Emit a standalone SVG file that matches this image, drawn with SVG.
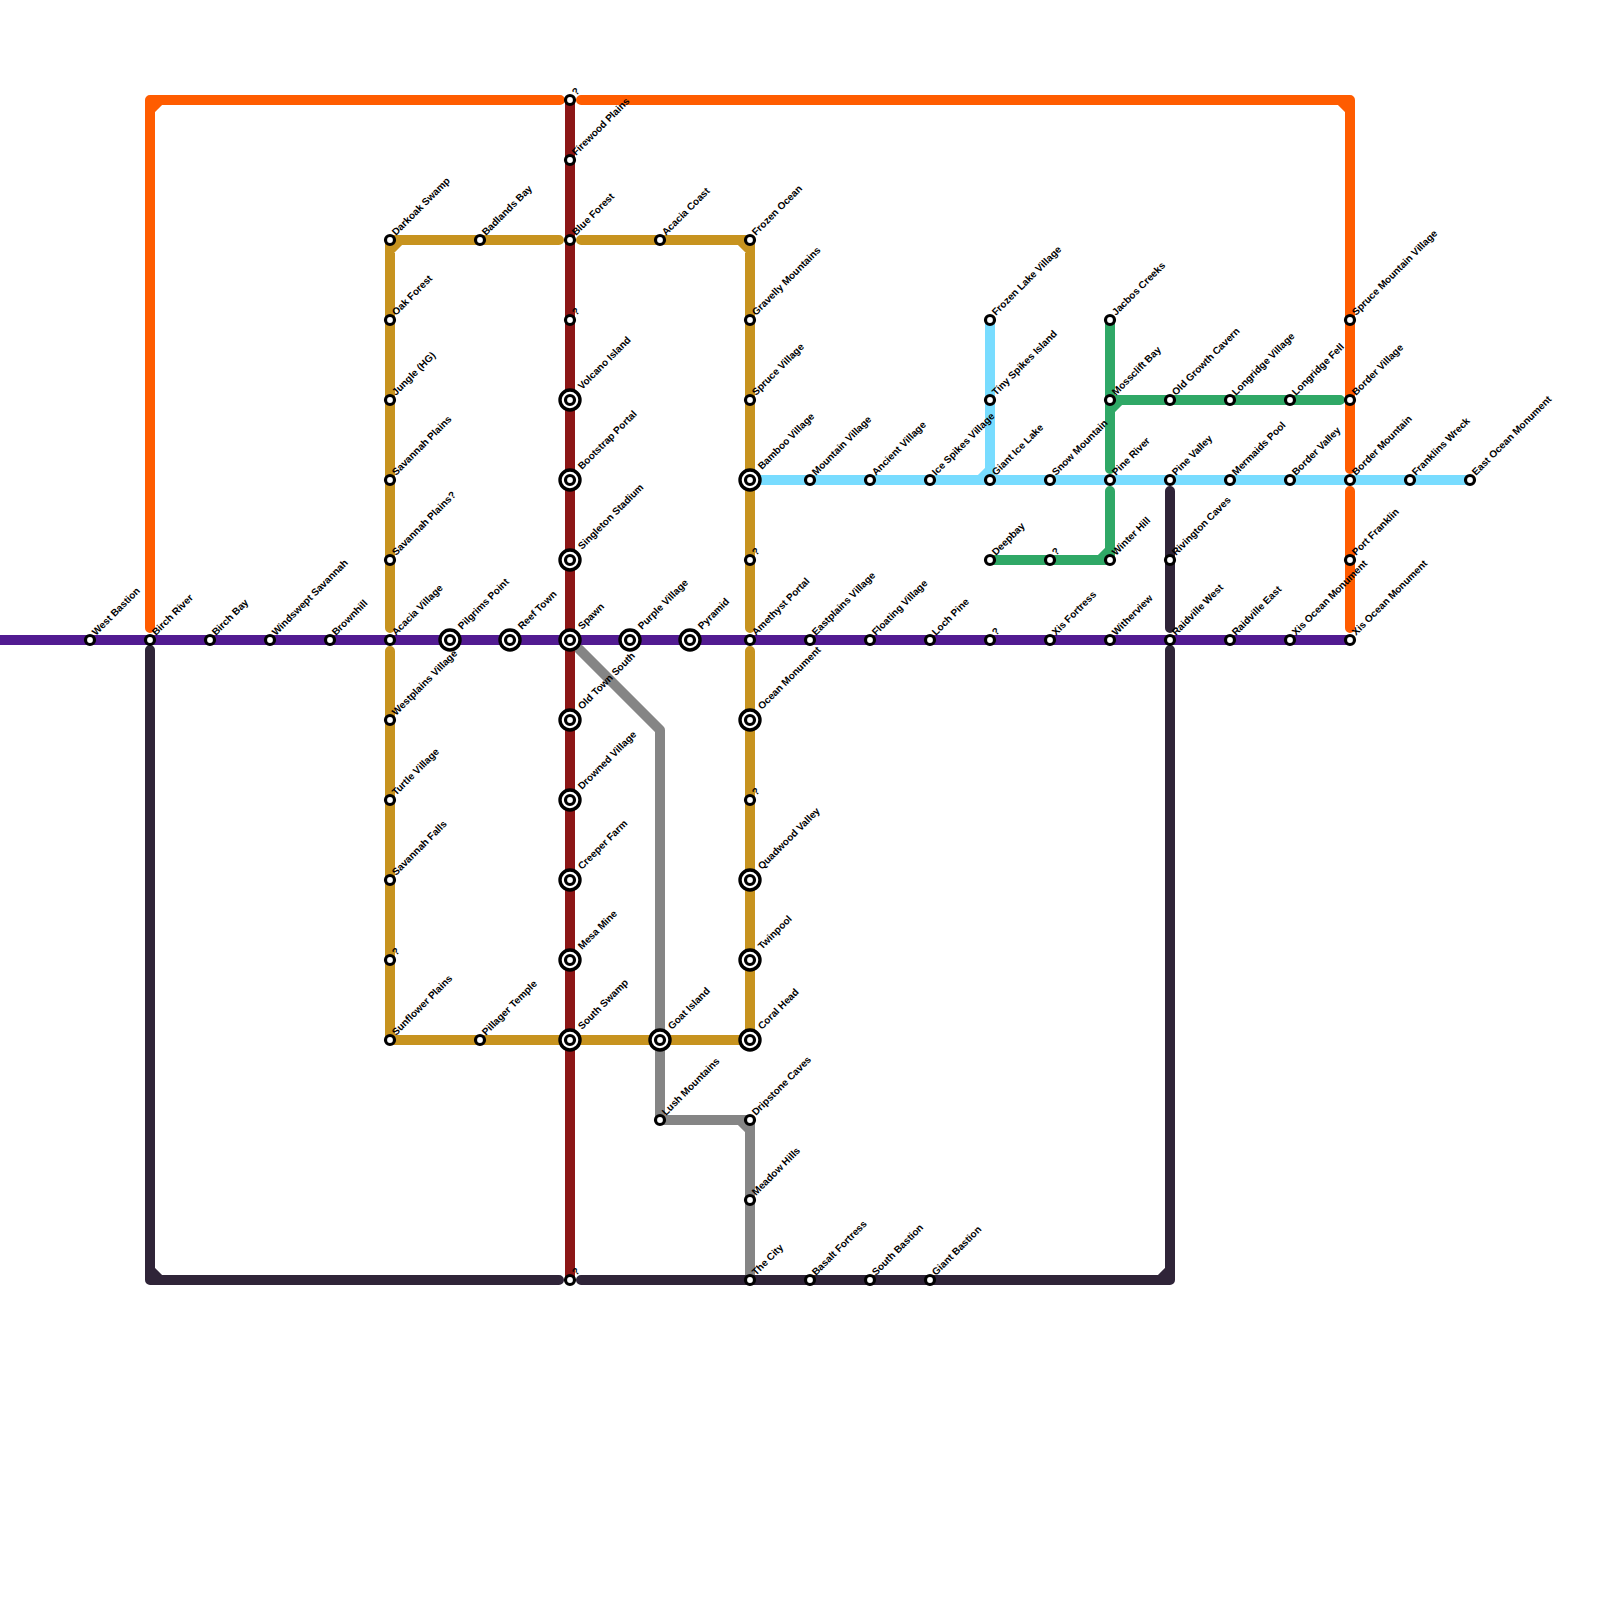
<svg xmlns="http://www.w3.org/2000/svg" width="1600" height="1600" viewBox="0 0 1600 1600">
<style>
.l{fill:none;stroke-width:10;stroke-linecap:round;stroke-linejoin:round}
.s{fill:#fff;stroke:#000;stroke-width:3.2}
.r{fill:#fff;stroke:#000;stroke-width:3.4}
text{font-family:"Liberation Sans",Arial,sans-serif;font-size:10px;font-weight:bold;fill:#000;text-rendering:geometricPrecision}
</style>
<defs>
<g id="sm"><circle class="s" r="4.5"/></g>
<g id="ic"><circle class="r" r="10"/><circle class="s" r="4.5"/></g>
</defs>
<rect width="1600" height="1600" fill="#fff"/>
<g id="connectors">
<path class="l" stroke="#ff5c00" d="M150 628V100H560M150 110L160 100M581 100H1350V469M1340 100L1350 110M1350 491V628"/>
<path class="l" stroke="#c7931f" d="M390 628V240H559M390 250L400 240M581 240H750V628M740 240L750 250M390 651V1040H750V651"/>
<path class="l" stroke="#858585" d="M579 649L660 730V1120H750V1280M740 1120L750 1130"/>
<path class="l" stroke="#2f2438" d="M150 650V1280H559M150 1270L160 1280M581 1280H1170V650M1160 1280L1170 1270M1170 628V491"/>
<path class="l" stroke="#2fa866" d="M1110 320V469M1110 410L1120 400M1110 400H1340M1110 491V560H990M1100 560L1110 550"/>
<path class="l" stroke="#78dcff" d="M990 320V480M980 480L990 470M750 480H1470"/>
<path class="l" stroke="#8c1616" d="M570 100V1280"/>
<path class="l" stroke="#521b91" stroke-linecap="butt" d="M0 640H1350"/>
</g>
<g id="stations">
<g id="n1"><use href="#sm" x="90" y="640"/><text transform="translate(96 636) rotate(-45)">West Bastion</text></g>
<g id="n2"><use href="#sm" x="150" y="640"/><text transform="translate(156 636) rotate(-45)">Birch River</text></g>
<g id="n3"><use href="#sm" x="210" y="640"/><text transform="translate(216 636) rotate(-45)">Birch Bay</text></g>
<g id="n4"><use href="#sm" x="270" y="640"/><text transform="translate(276 636) rotate(-45)">Windswept Savannah</text></g>
<g id="n5"><use href="#sm" x="330" y="640"/><text transform="translate(336 636) rotate(-45)">Brownhill</text></g>
<g id="n6"><use href="#sm" x="390" y="640"/><text transform="translate(396 636) rotate(-45)">Acacia Village</text></g>
<g id="n7"><use href="#ic" x="450" y="640"/><text transform="translate(462 630) rotate(-45)">Pilgrims Point</text></g>
<g id="n8"><use href="#ic" x="510" y="640"/><text transform="translate(522 630) rotate(-45)">Reef Town</text></g>
<g id="n9"><use href="#ic" x="570" y="640"/><text transform="translate(582 630) rotate(-45)">Spawn</text></g>
<g id="n10"><use href="#ic" x="630" y="640"/><text transform="translate(642 630) rotate(-45)">Purple Village</text></g>
<g id="n11"><use href="#ic" x="690" y="640"/><text transform="translate(702 630) rotate(-45)">Pyramid</text></g>
<g id="n12"><use href="#sm" x="750" y="640"/><text transform="translate(756 636) rotate(-45)">Amethyst Portal</text></g>
<g id="n13"><use href="#sm" x="810" y="640"/><text transform="translate(816 636) rotate(-45)">Eastplains Village</text></g>
<g id="n14"><use href="#sm" x="870" y="640"/><text transform="translate(876 636) rotate(-45)">Floating Village</text></g>
<g id="n15"><use href="#sm" x="930" y="640"/><text transform="translate(936 636) rotate(-45)">Loch Pine</text></g>
<g id="n16"><use href="#sm" x="990" y="640"/><text transform="translate(996 636) rotate(-45)">?</text></g>
<g id="n17"><use href="#sm" x="1050" y="640"/><text transform="translate(1056 636) rotate(-45)">Xis Fortress</text></g>
<g id="n18"><use href="#sm" x="1110" y="640"/><text transform="translate(1116 636) rotate(-45)">Witherview</text></g>
<g id="n19"><use href="#sm" x="1170" y="640"/><text transform="translate(1176 636) rotate(-45)">Raidville West</text></g>
<g id="n20"><use href="#sm" x="1230" y="640"/><text transform="translate(1236 636) rotate(-45)">Raidville East</text></g>
<g id="n21"><use href="#sm" x="1290" y="640"/><text transform="translate(1296 636) rotate(-45)">Xis Ocean Monument</text></g>
<g id="n22"><use href="#sm" x="1350" y="640"/><text transform="translate(1356 636) rotate(-45)">Xis Ocean Monument</text></g>
<g id="n23"><use href="#sm" x="390" y="240"/><text transform="translate(396 236) rotate(-45)">Darkoak Swamp</text></g>
<g id="n24"><use href="#sm" x="390" y="320"/><text transform="translate(396 316) rotate(-45)">Oak Forest</text></g>
<g id="n25"><use href="#sm" x="390" y="400"/><text transform="translate(396 396) rotate(-45)">Jungle (HG)</text></g>
<g id="n26"><use href="#sm" x="390" y="480"/><text transform="translate(396 476) rotate(-45)">Savannah Plains</text></g>
<g id="n27"><use href="#sm" x="390" y="560"/><text transform="translate(396 556) rotate(-45)">Savannah Plains?</text></g>
<g id="n28"><use href="#sm" x="390" y="720"/><text transform="translate(396 716) rotate(-45)">Westplains Village</text></g>
<g id="n29"><use href="#sm" x="390" y="800"/><text transform="translate(396 796) rotate(-45)">Turtle Village</text></g>
<g id="n30"><use href="#sm" x="390" y="880"/><text transform="translate(396 876) rotate(-45)">Savannah Falls</text></g>
<g id="n31"><use href="#sm" x="390" y="960"/><text transform="translate(396 956) rotate(-45)">?</text></g>
<g id="n32"><use href="#sm" x="390" y="1040"/><text transform="translate(396 1036) rotate(-45)">Sunflower Plains</text></g>
<g id="n33"><use href="#sm" x="480" y="240"/><text transform="translate(486 236) rotate(-45)">Badlands Bay</text></g>
<g id="n34"><use href="#sm" x="480" y="1040"/><text transform="translate(486 1036) rotate(-45)">Pillager Temple</text></g>
<g id="n35"><use href="#sm" x="570" y="100"/><text transform="translate(576 96) rotate(-45)">?</text></g>
<g id="n36"><use href="#sm" x="570" y="160"/><text transform="translate(576 156) rotate(-45)">Firewood Plains</text></g>
<g id="n37"><use href="#sm" x="570" y="240"/><text transform="translate(576 236) rotate(-45)">Blue Forest</text></g>
<g id="n38"><use href="#sm" x="570" y="320"/><text transform="translate(576 316) rotate(-45)">?</text></g>
<g id="n39"><use href="#ic" x="570" y="400"/><text transform="translate(582 390) rotate(-45)">Volcano Island</text></g>
<g id="n40"><use href="#ic" x="570" y="480"/><text transform="translate(582 470) rotate(-45)">Bootstrap Portal</text></g>
<g id="n41"><use href="#ic" x="570" y="560"/><text transform="translate(582 550) rotate(-45)">Singleton Stadium</text></g>
<g id="n42"><use href="#ic" x="570" y="720"/><text transform="translate(582 710) rotate(-45)">Old Town South</text></g>
<g id="n43"><use href="#ic" x="570" y="800"/><text transform="translate(582 790) rotate(-45)">Drowned Village</text></g>
<g id="n44"><use href="#ic" x="570" y="880"/><text transform="translate(582 870) rotate(-45)">Creeper Farm</text></g>
<g id="n45"><use href="#ic" x="570" y="960"/><text transform="translate(582 950) rotate(-45)">Mesa Mine</text></g>
<g id="n46"><use href="#ic" x="570" y="1040"/><text transform="translate(582 1030) rotate(-45)">South Swamp</text></g>
<g id="n47"><use href="#sm" x="570" y="1280"/><text transform="translate(576 1276) rotate(-45)">?</text></g>
<g id="n48"><use href="#sm" x="660" y="240"/><text transform="translate(666 236) rotate(-45)">Acacia Coast</text></g>
<g id="n49"><use href="#sm" x="750" y="240"/><text transform="translate(756 236) rotate(-45)">Frozen Ocean</text></g>
<g id="n50"><use href="#sm" x="750" y="320"/><text transform="translate(756 316) rotate(-45)">Gravelly Mountains</text></g>
<g id="n51"><use href="#sm" x="750" y="400"/><text transform="translate(756 396) rotate(-45)">Spruce Village</text></g>
<g id="n52"><use href="#ic" x="750" y="480"/><text transform="translate(762 470) rotate(-45)">Bamboo Village</text></g>
<g id="n53"><use href="#sm" x="750" y="560"/><text transform="translate(756 556) rotate(-45)">?</text></g>
<g id="n54"><use href="#ic" x="750" y="720"/><text transform="translate(762 710) rotate(-45)">Ocean Monument</text></g>
<g id="n55"><use href="#sm" x="750" y="800"/><text transform="translate(756 796) rotate(-45)">?</text></g>
<g id="n56"><use href="#ic" x="750" y="880"/><text transform="translate(762 870) rotate(-45)">Quadwood Valley</text></g>
<g id="n57"><use href="#ic" x="750" y="960"/><text transform="translate(762 950) rotate(-45)">Twinpool</text></g>
<g id="n58"><use href="#ic" x="750" y="1040"/><text transform="translate(762 1030) rotate(-45)">Coral Head</text></g>
<g id="n59"><use href="#ic" x="660" y="1040"/><text transform="translate(672 1030) rotate(-45)">Goat Island</text></g>
<g id="n60"><use href="#sm" x="660" y="1120"/><text transform="translate(666 1116) rotate(-45)">Lush Mountains</text></g>
<g id="n61"><use href="#sm" x="750" y="1120"/><text transform="translate(756 1116) rotate(-45)">Dripstone Caves</text></g>
<g id="n62"><use href="#sm" x="750" y="1200"/><text transform="translate(756 1196) rotate(-45)">Meadow Hills</text></g>
<g id="n63"><use href="#sm" x="750" y="1280"/><text transform="translate(756 1276) rotate(-45)">The City</text></g>
<g id="n64"><use href="#sm" x="810" y="1280"/><text transform="translate(816 1276) rotate(-45)">Basalt Fortress</text></g>
<g id="n65"><use href="#sm" x="870" y="1280"/><text transform="translate(876 1276) rotate(-45)">South Bastion</text></g>
<g id="n66"><use href="#sm" x="930" y="1280"/><text transform="translate(936 1276) rotate(-45)">Giant Bastion</text></g>
<g id="n67"><use href="#sm" x="810" y="480"/><text transform="translate(816 476) rotate(-45)">Mountain Village</text></g>
<g id="n68"><use href="#sm" x="870" y="480"/><text transform="translate(876 476) rotate(-45)">Ancient Village</text></g>
<g id="n69"><use href="#sm" x="930" y="480"/><text transform="translate(936 476) rotate(-45)">Ice Spikes Village</text></g>
<g id="n70"><use href="#sm" x="990" y="480"/><text transform="translate(996 476) rotate(-45)">Giant Ice Lake</text></g>
<g id="n71"><use href="#sm" x="1050" y="480"/><text transform="translate(1056 476) rotate(-45)">Snow Mountain</text></g>
<g id="n72"><use href="#sm" x="1110" y="480"/><text transform="translate(1116 476) rotate(-45)">Pine River</text></g>
<g id="n73"><use href="#sm" x="1170" y="480"/><text transform="translate(1176 476) rotate(-45)">Pine Valley</text></g>
<g id="n74"><use href="#sm" x="1230" y="480"/><text transform="translate(1236 476) rotate(-45)">Mermaids Pool</text></g>
<g id="n75"><use href="#sm" x="1290" y="480"/><text transform="translate(1296 476) rotate(-45)">Border Valley</text></g>
<g id="n76"><use href="#sm" x="1350" y="480"/><text transform="translate(1356 476) rotate(-45)">Border Mountain</text></g>
<g id="n77"><use href="#sm" x="1410" y="480"/><text transform="translate(1416 476) rotate(-45)">Franklins Wreck</text></g>
<g id="n78"><use href="#sm" x="1470" y="480"/><text transform="translate(1476 476) rotate(-45)">East Ocean Monument</text></g>
<g id="n79"><use href="#sm" x="990" y="320"/><text transform="translate(996 316) rotate(-45)">Frozen Lake Village</text></g>
<g id="n80"><use href="#sm" x="990" y="400"/><text transform="translate(996 396) rotate(-45)">Tiny Spikes Island</text></g>
<g id="n81"><use href="#sm" x="990" y="560"/><text transform="translate(996 556) rotate(-45)">Deepbay</text></g>
<g id="n82"><use href="#sm" x="1050" y="560"/><text transform="translate(1056 556) rotate(-45)">?</text></g>
<g id="n83"><use href="#sm" x="1110" y="560"/><text transform="translate(1116 556) rotate(-45)">Winter Hill</text></g>
<g id="n84"><use href="#sm" x="1110" y="320"/><text transform="translate(1116 316) rotate(-45)">Jacbos Creeks</text></g>
<g id="n85"><use href="#sm" x="1110" y="400"/><text transform="translate(1116 396) rotate(-45)">Mossclift Bay</text></g>
<g id="n86"><use href="#sm" x="1170" y="400"/><text transform="translate(1176 396) rotate(-45)">Old Growth Cavern</text></g>
<g id="n87"><use href="#sm" x="1230" y="400"/><text transform="translate(1236 396) rotate(-45)">Longridge Village</text></g>
<g id="n88"><use href="#sm" x="1290" y="400"/><text transform="translate(1296 396) rotate(-45)">Longridge Fell</text></g>
<g id="n89"><use href="#sm" x="1350" y="400"/><text transform="translate(1356 396) rotate(-45)">Border Village</text></g>
<g id="n90"><use href="#sm" x="1350" y="320"/><text transform="translate(1356 316) rotate(-45)">Spruce Mountain Village</text></g>
<g id="n91"><use href="#sm" x="1350" y="560"/><text transform="translate(1356 556) rotate(-45)">Port Franklin</text></g>
<g id="n92"><use href="#sm" x="1170" y="560"/><text transform="translate(1176 556) rotate(-45)">Rivington Caves</text></g>
</g>
</svg>
